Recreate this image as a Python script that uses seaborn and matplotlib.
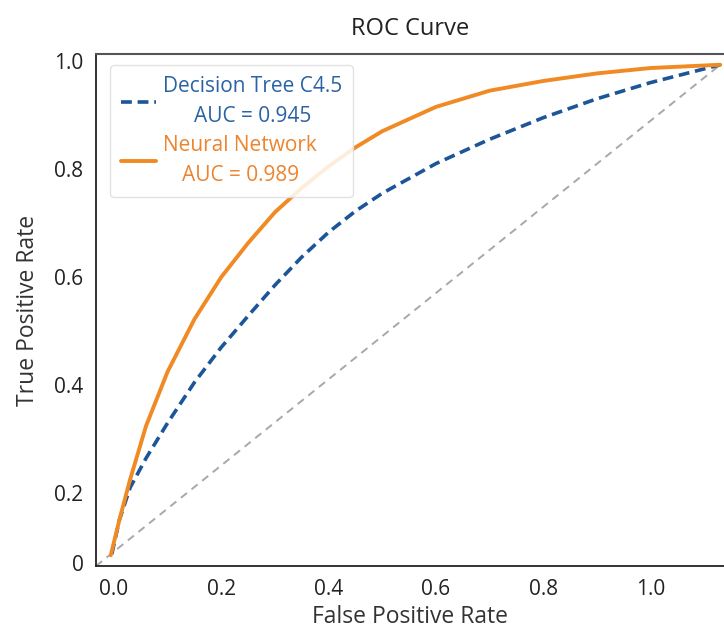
import numpy as np
import pandas as pd
import seaborn as sns
import matplotlib
matplotlib.use('Agg')
import matplotlib.pyplot as plt

# curve points (axis units as drawn)
nn_fpr = [-0.006, 0.01, 0.03, 0.06, 0.10, 0.15, 0.20, 0.25, 0.30, 0.35, 0.40,
	0.45, 0.50, 0.60, 0.70, 0.80, 0.90, 1.00, 1.13]
nn_tpr = [0.085, 0.150, 0.225, 0.325, 0.425, 0.522, 0.600, 0.663, 0.720, 0.765, 0.805,
	0.840, 0.870, 0.915, 0.945, 0.963, 0.977, 0.987, 0.993]

dt_fpr = [-0.004, 0.01, 0.03, 0.06, 0.10, 0.15, 0.20, 0.25, 0.30, 0.35, 0.40,
	0.45, 0.50, 0.60, 0.70, 0.80, 0.90, 1.00, 1.13]
dt_tpr = [0.087, 0.150, 0.210, 0.265, 0.330, 0.405, 0.470, 0.528, 0.585, 0.637, 0.683,
	0.722, 0.755, 0.810, 0.855, 0.895, 0.930, 0.960, 0.993]

chance_fpr = [-0.0335, 1.130]
chance_tpr = [0.065, 0.993]

labels = ['Decision Tree C4.5\nAUC = 0.945', 'Neural Network\nAUC = 0.989']
xtick_vals = [0.0, 0.2, 0.4, 0.6, 0.8, 1.0]
xtick_labels = ['0.0', '0.2', '0.4', '0.6', '0.8', '1.0']
ytick_vals = [0.07, 0.2, 0.4, 0.6, 0.8, 1.0]
ytick_labels = ['0', '0.2', '0.4', '0.6', '0.8', '1.0']

blue = '#1c5598'
orange = '#f08a24'

def main():
	sns.set_style('white')
	plt.rcParams['font.family'] = ['Open Sans', 'DejaVu Sans']

	fig = plt.figure(figsize=(7.24, 6.32), dpi=100)
	ax = fig.add_axes([0.1326, 0.1044, 0.8674, 0.8102])

	df_dt = pd.DataFrame({'fpr': dt_fpr, 'tpr': dt_tpr})
	df_nn = pd.DataFrame({'fpr': nn_fpr, 'tpr': nn_tpr})
	df_ch = pd.DataFrame({'fpr': chance_fpr, 'tpr': chance_tpr})

	sns.lineplot(data=df_ch, x='fpr', y='tpr', sort=False, ax=ax, color='#a8a8a8',
		lw=1.4, linestyle=(0, (4, 3)))
	sns.lineplot(data=df_dt, x='fpr', y='tpr', sort=False, ax=ax, color=blue,
		lw=2.6, linestyle=(0, (3, 1.6)), label=labels[0])
	sns.lineplot(data=df_nn, x='fpr', y='tpr', sort=False, ax=ax, color=orange,
		lw=2.8, label=labels[1])
	for ln in ax.get_lines():
		ln.set_solid_joinstyle('round')
		ln.set_dash_joinstyle('round')

	ax.set_xlim(-0.0335, 1.137)
	ax.set_ylim(0.065, 1.013)
	ax.set_xticks(xtick_vals)
	ax.set_xticklabels(xtick_labels)
	ax.set_yticks(ytick_vals)
	ax.set_yticklabels(ytick_labels)
	ax.tick_params(axis='both', length=0, pad=9, labelsize=15, colors='#222222')

	for side in ['left', 'bottom']:
		ax.spines[side].set_color('#222222')
		ax.spines[side].set_linewidth(1.3)
	ax.spines['top'].set_color('#555555')
	ax.spines['top'].set_linewidth(1.5)
	ax.spines['right'].set_visible(False)

	ax.set_xlabel('False Positive Rate', fontsize=16.5, color='#333333', labelpad=4)
	ax.set_ylabel('True Positive Rate', fontsize=16.5, color='#333333', labelpad=10)
	ax.set_title('ROC Curve', fontsize=17, color='#222222', pad=14)

	leg = ax.legend(loc='upper left', bbox_to_anchor=(0.006, 0.998), fontsize=15,
		handlelength=1.7, handletextpad=0.35, labelspacing=0.35, borderpad=0.5,
		frameon=True, fancybox=True, framealpha=0.85, edgecolor='#dddddd')
	for txt, col in zip(leg.get_texts(), ['#2a62a6', '#ec8430']):
		txt.set_color(col)
		txt.set_multialignment('center')
		txt.set_linespacing(1.6)

	plt.savefig('out.png', dpi=100)

if __name__ == '__main__': main()
